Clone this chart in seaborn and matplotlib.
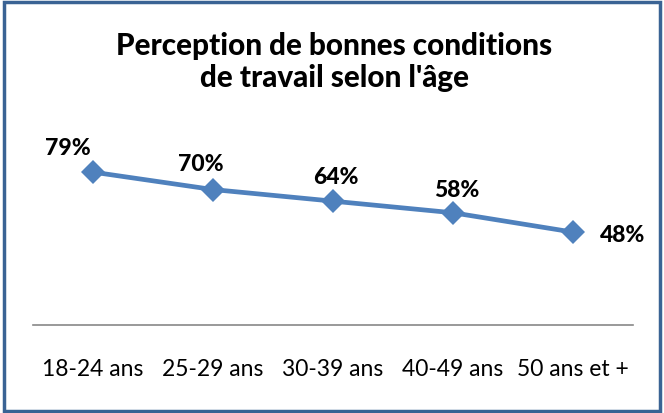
import numpy as np
import pandas as pd
import seaborn as sns
from matplotlib import pyplot as plt
from matplotlib.patches import Rectangle

ages = ["18-24 ans", "25-29 ans", "30-39 ans", "40-49 ans", "50 ans et +"]
pct = [79, 70, 64, 58, 48]
# label offsets in points (dx, dy) relative to each marker
label_dx = [-18, -9, 2, 3, 36]
label_dy = [18, 19, 18, 17, -2]

sns.set_theme(style="white")
plt.rcParams["font.family"] = ["Lato", "DejaVu Sans"]

d = pd.DataFrame({"age": ages, "pct": pct})
d["pos"] = range(len(d))

fig = plt.figure(figsize=(6.64, 4.14), dpi=100)
ax = fig.add_axes([33 / 664, 88 / 414, 600 / 664, 193.5 / 414])

sns.lineplot(data=d, x="pos", y="pct", ax=ax, color="#4F81BD", lw=3.4,
             marker="D", markersize=12, markeredgewidth=0)

for i, row in d.iterrows():
    ax.annotate(f"{row['pct']}%", (row["pos"], row["pct"]),
                xytext=(label_dx[i], label_dy[i]), textcoords="offset points",
                ha="center", va="center", fontsize=16.5, fontweight=900, color="black")

ax.set_xlim(-0.5, len(ages) - 0.5)
ax.set_ylim(0, 100)
ax.set_xticks(d["pos"])
ax.set_xticklabels(ages, fontsize=16.5, color="black")
ax.set_yticks([])
ax.set_xlabel("")
ax.set_ylabel("")
ax.tick_params(axis="x", length=0, pad=24)
for s in ["top", "right", "left"]:
    ax.spines[s].set_visible(False)
ax.spines["bottom"].set_color("#888888")
ax.spines["bottom"].set_linewidth(1.2)

fig.text(334 / 664, 1 - 62 / 414, "Perception de bonnes conditions\nde travail selon l'âge",
         ha="center", va="center", fontsize=21.3, fontweight=900, color="black",
         linespacing=1.2)

fig.patches.append(Rectangle((4 / 664, 2.5 / 414), 656 / 664, 409 / 414,
                             transform=fig.transFigure, fill=False,
                             edgecolor="#3A6394", lw=2.5))

fig.savefig("out.png", dpi=100)
